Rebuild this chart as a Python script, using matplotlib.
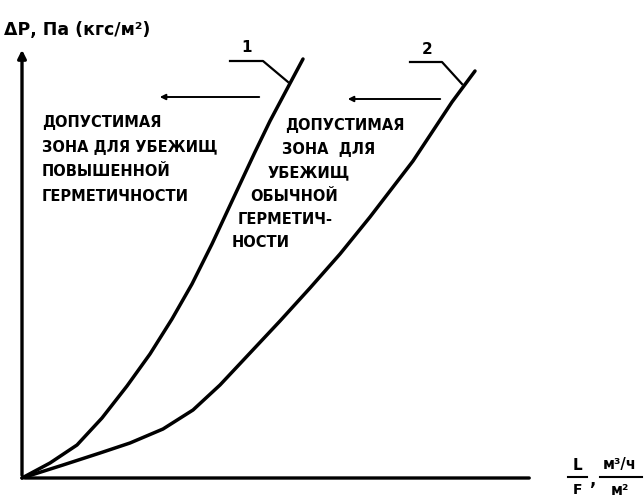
import matplotlib
matplotlib.use("Agg")
import matplotlib.pyplot as plt

# curve 1 - shelters of higher airtightness, curve 2 - ordinary airtightness
curve1_x = [0.0, 0.28, 0.55, 0.80, 1.05, 1.28, 1.50, 1.70, 1.90, 2.11, 2.33, 2.48, 2.65, 2.81]
curve1_y = [0.0, 0.15, 0.33, 0.60, 0.92, 1.24, 1.59, 1.94, 2.34, 2.79, 3.26, 3.57, 3.89, 4.19]
curve2_x = [0.0, 0.41, 0.78, 1.08, 1.41, 1.71, 1.98, 2.28, 2.58, 2.88, 3.18, 3.48, 3.91,
            4.30, 4.53]
curve2_y = [0.0, 0.13, 0.25, 0.35, 0.49, 0.68, 0.93, 1.25, 1.57, 1.90, 2.24, 2.61, 3.17,
            3.76, 4.07]

left_zone = ["ДОПУСТИМАЯ", "ЗОНА ДЛЯ УБЕЖИЩ", "ПОВЫШЕННОЙ", "ГЕРМЕТИЧНОСТИ"]
right_zone = ["ДОПУСТИМАЯ", "ЗОНА  ДЛЯ", "УБЕЖИЩ", "ОБЫЧНОЙ", "ГЕРМЕТИЧ-", "НОСТИ"]

W, H = 644, 502
fig = plt.figure(figsize=(W / 100, H / 100), dpi=100)
ax = fig.add_axes([22 / W, 23 / H, 510 / W, 431 / H])
ax.set_xlim(0, 5.10)
ax.set_ylim(0, 4.31)
ax.axis("off")

def fx(px):
    return px / W

def fy(py):
    return 1 - py / H

# axes with arrows
ax.annotate("", xy=(0, 4.31), xytext=(0, 0), xycoords="data",
            arrowprops=dict(arrowstyle="-|>", lw=2.4, color="black", mutation_scale=12),
            annotation_clip=False)
ax.annotate("", xy=(5.10, 0), xytext=(0, 0),
            arrowprops=dict(arrowstyle="-", lw=2.4, color="black"),
            annotation_clip=False)

ax.plot(curve1_x, curve1_y, color="black", lw=2.5, solid_capstyle="round",
        solid_joinstyle="round", clip_on=False)
ax.plot(curve2_x, curve2_y, color="black", lw=2.5, solid_capstyle="round",
        solid_joinstyle="round", clip_on=False)

# leaders and numbers
ax.plot([2.08, 2.41, 2.66], [4.17, 4.17, 3.96], color="black", lw=1.6, clip_on=False)
ax.plot([3.88, 4.20, 4.40], [4.16, 4.16, 3.94], color="black", lw=1.6, clip_on=False)
ax.text(2.25, 4.31, "1", fontsize=11, fontweight="bold", ha="center", va="center")
ax.text(4.05, 4.29, "2", fontsize=11, fontweight="bold", ha="center", va="center")

# arrows pointing to allowable zones
for x0, x1, y in [(2.40, 1.35, 3.81), (4.21, 3.23, 3.79)]:
    ax.annotate("", xy=(x1, y), xytext=(x0, y),
                arrowprops=dict(arrowstyle="-|>", lw=1.4, color="black", mutation_scale=8))

for s, y in zip(left_zone, [3.56, 3.31, 3.07, 2.82]):
    ax.text(0.20, y, s, fontsize=10.5, fontweight="bold", ha="left", va="center")
for s, x, y in zip(right_zone, [2.63, 2.60, 2.46, 2.28, 2.16, 2.10],
                   [3.53, 3.29, 3.06, 2.82, 2.59, 2.36]):
    ax.text(x, y, s, fontsize=10.5, fontweight="bold", ha="left", va="center")

# axis labels
fig.text(fx(4), fy(30), "ΔР, Па (кгс/м²)", fontsize=12.5, fontweight="bold",
         ha="left", va="center")
fig.text(fx(577), fy(466), "L", fontsize=11, fontweight="bold", ha="center", va="center")
fig.text(fx(577), fy(490), "F", fontsize=10, fontweight="bold", ha="center", va="center")
fig.add_artist(plt.Line2D([fx(568), fx(587)], [fy(478), fy(478)], color="black", lw=1.5))
fig.text(fx(592), fy(480), ",", fontsize=12, fontweight="bold", ha="center", va="center")
fig.text(fx(620), fy(465), "м³/ч", fontsize=10.5, fontweight="bold", ha="center", va="center")
fig.add_artist(plt.Line2D([fx(600), fx(642)], [fy(478), fy(478)], color="black", lw=1.5))
fig.text(fx(620), fy(491), "м²", fontsize=10.5, fontweight="bold", ha="center", va="center")

fig.savefig("out.png", dpi=100, facecolor="white")
